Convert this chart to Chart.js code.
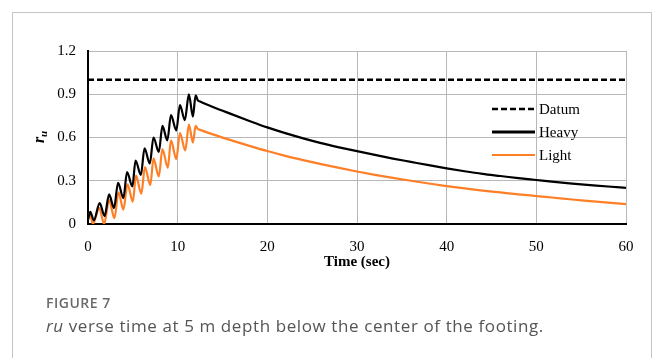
<!DOCTYPE html>
<html>
<head>
<meta charset="utf-8">
<script src="https://cdn.jsdelivr.net/npm/chart.js@4/dist/chart.umd.min.js"></script>
<style>
  html, body { margin: 0; padding: 0; background: #fff; width: 656px; height: 358px; overflow: hidden; }
  #frame { position: absolute; left: 12px; top: 12px; width: 640px; height: 400px; border: 1px solid #c4c4c4; box-sizing: border-box; }
  #wrap { position: absolute; left: 0; top: 0; width: 656px; height: 358px; }
  #cap1 { position: absolute; left: 46px; top: 293px; font-family: "Open Sans", sans-serif; font-size: 14px; font-weight: 600; color: #6a6a6a; letter-spacing: 0.5px; }
  #cap2 { position: absolute; left: 46px; top: 314px; font-family: "Open Sans", sans-serif; font-size: 17px; color: #555; letter-spacing: 0.6px; }
</style>
</head>
<body>
<div id="frame"></div>
<div id="wrap"><canvas id="c" width="656" height="358"></canvas></div>
<div id="cap1">FIGURE 7</div>
<div id="cap2"><i>ru</i> verse time at 5 m depth below the center of the footing.</div>
<script>
// ---- data ----
const xTicks = [0, 10, 20, 30, 40, 50, 60];
const yTicks = [0, 0.3, 0.6, 0.9, 1.2];
const yTickLabels = ["0", "0.3", "0.6", "0.9", "1.2"];

const datumTime = [0, 60];
const datumValues = [1.0, 1.0];

const heavyTime = [0.0, 0.25, 0.65, 1.3, 1.85, 2.35, 2.9, 3.35, 3.95, 4.35, 4.95, 5.3, 5.9, 6.3, 6.9, 7.3, 7.9, 8.3, 8.85, 9.25, 9.85, 10.25, 10.8, 11.25, 11.7, 12.0, 12.25, 12.5,
  14, 16, 18, 20, 22, 24, 26, 28, 30, 32, 34, 36, 38, 40, 42, 44, 46, 48, 50, 52, 54, 56, 58, 60];
const heavyValues = [0.03, 0.085, 0.025, 0.145, 0.055, 0.205, 0.11, 0.285, 0.18, 0.36, 0.26, 0.44, 0.34, 0.525, 0.42, 0.60, 0.50, 0.68, 0.58, 0.755, 0.65, 0.825, 0.72, 0.90, 0.745, 0.893, 0.858, 0.850,
  0.81, 0.762, 0.715, 0.670, 0.630, 0.594, 0.561, 0.532, 0.505, 0.479, 0.454, 0.431, 0.408, 0.386, 0.366, 0.348, 0.333, 0.318, 0.305, 0.292, 0.280, 0.270, 0.260, 0.251];

const lightTime = [0.0, 0.2, 0.55, 1.25, 1.8, 2.35, 2.95, 3.4, 3.95, 4.4, 5.0, 5.35, 5.95, 6.35, 6.95, 7.3, 7.9, 8.3, 8.9, 9.25, 9.85, 10.25, 10.85, 11.25, 11.7, 12.0, 12.25, 12.5,
  14, 16, 18, 20, 22, 24, 26, 28, 30, 32, 34, 36, 38, 40, 42, 44, 46, 48, 50, 52, 54, 56, 58, 60];
const lightValues = [0.03, 0.075, 0.0, 0.11, 0.0, 0.165, 0.04, 0.22, 0.10, 0.275, 0.155, 0.335, 0.21, 0.395, 0.27, 0.455, 0.33, 0.52, 0.39, 0.58, 0.45, 0.63, 0.51, 0.69, 0.565, 0.68, 0.659, 0.653,
  0.620, 0.580, 0.542, 0.506, 0.473, 0.443, 0.415, 0.389, 0.364, 0.341, 0.320, 0.300, 0.281, 0.263, 0.247, 0.232, 0.219, 0.206, 0.194, 0.182, 0.170, 0.159, 0.148, 0.138];

const seriesNames = ["Datum", "Heavy", "Light"];

function pts(t, v) { return t.map((x, i) => ({ x: x, y: v[i] })); }

const SERIF = '"Liberation Serif", "Times New Roman", serif';

const legendPlugin = {
  id: 'insideLegend',
  afterDraw(chart) {
    const ctx = chart.ctx;
    const ds = chart.data.datasets;
    const x0 = 492, x1 = 535, tx = 539;
    const ys = [109, 132, 155];
    ctx.save();
    ds.forEach((d, i) => {
      ctx.beginPath();
      ctx.strokeStyle = d.borderColor;
      ctx.lineWidth = i === 1 ? 3 : (i === 0 ? 2.5 : 2);
      ctx.setLineDash(d.borderDash || []);
      ctx.moveTo(x0, ys[i]);
      ctx.lineTo(x1, ys[i]);
      ctx.stroke();
      ctx.setLineDash([]);
      ctx.fillStyle = '#000';
      ctx.font = '15px ' + SERIF;
      ctx.textAlign = 'left';
      ctx.textBaseline = 'middle';
      ctx.fillText(d.label, tx, ys[i] + 1);
    });
    // y-axis title r_u
    ctx.translate(40, 137);
    ctx.rotate(-Math.PI / 2);
    ctx.fillStyle = '#000';
    ctx.textBaseline = 'alphabetic';
    ctx.textAlign = 'left';
    ctx.font = 'italic bold 16px ' + SERIF;
    ctx.fillText('r', -6, 4);
    ctx.font = 'italic bold 11px ' + SERIF;
    ctx.fillText('u', 0, 7);
    ctx.restore();
  }
};

new Chart(document.getElementById('c'), {
  type: 'line',
  data: {
    datasets: [
      { label: seriesNames[0], data: pts(datumTime, datumValues), borderColor: '#000', borderWidth: 2.5, borderDash: [6, 3], pointRadius: 0, tension: 0 },
      { label: seriesNames[1], data: pts(heavyTime, heavyValues), borderColor: '#000', borderWidth: 2.2, pointRadius: 0, cubicInterpolationMode: 'monotone' },
      { label: seriesNames[2], data: pts(lightTime, lightValues), borderColor: '#ff7f27', borderWidth: 2.2, pointRadius: 0, cubicInterpolationMode: 'monotone' }
    ]
  },
  options: {
    responsive: false,
    animation: false,
    layout: { padding: { left: 0, right: 30, top: 51, bottom: 87 } },
    plugins: { legend: { display: false }, tooltip: { enabled: false } },
    scales: {
      x: {
        type: 'linear', min: 0, max: 60,
        afterBuildTicks(s) { s.ticks = xTicks.map(v => ({ value: v })); },
        afterFit(s) { s.height = 47; },
        grid: { color: '#b8b8b8', lineWidth: 1, drawTicks: false },
        border: { color: '#000', width: 2 },
        ticks: { color: '#000', font: { family: SERIF, size: 15 }, padding: 14, maxRotation: 0, callback: (v) => String(v) },
        title: { display: true, text: 'Time (sec)', color: '#000', font: { family: SERIF, size: 15, weight: 'bold' }, padding: { top: 0, bottom: 0 } }
      },
      y: {
        type: 'linear', min: 0, max: 1.2,
        afterBuildTicks(s) { s.ticks = yTicks.map(v => ({ value: v })); },
        afterFit(s) { s.width = 88; },
        grid: { color: '#b8b8b8', lineWidth: 1, drawTicks: false },
        border: { color: '#000', width: 2 },
        ticks: { color: '#000', font: { family: SERIF, size: 15 }, padding: 12, callback: (v) => yTickLabels[yTicks.indexOf(v)] }
      }
    }
  },
  plugins: [legendPlugin]
});
</script>
</body>
</html>
